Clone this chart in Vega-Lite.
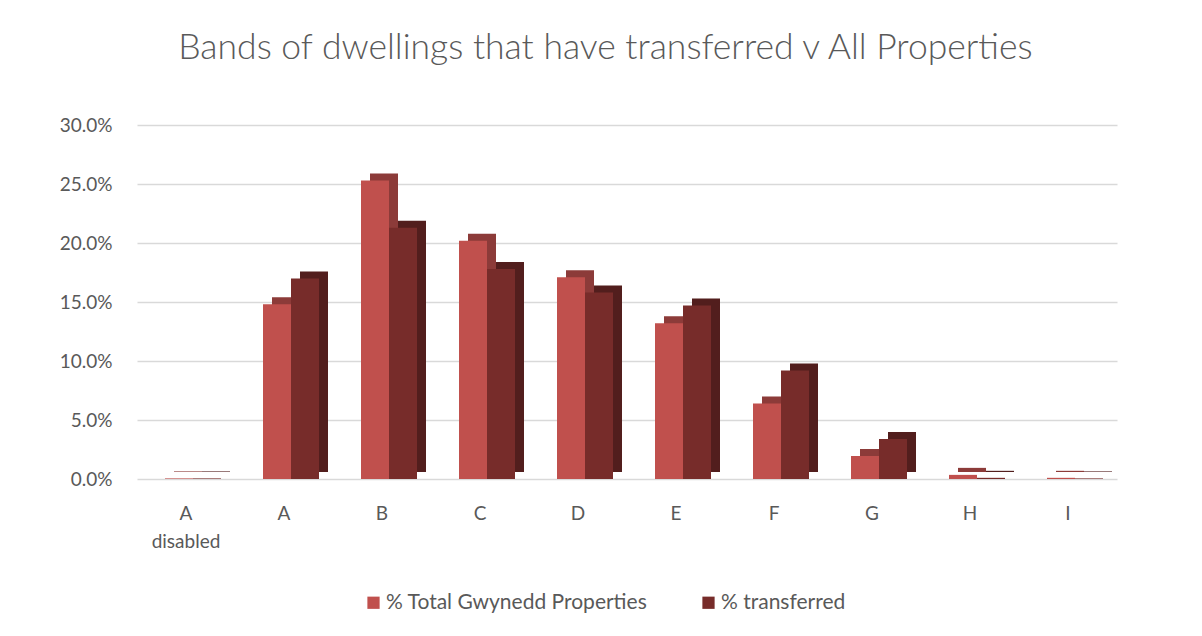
{
  "$schema": "https://vega.github.io/schema/vega-lite/v6.json",
  "autosize": "none",
  "width": 1004,
  "height": 354,
  "padding": {"left": 137, "top": 125, "right": 61, "bottom": 157},
  "background": "white",
  "config": {
    "font": "Lato",
    "view": {"stroke": null}
  },
  "title": {
    "text": "Bands of dwellings that have transferred v All Properties",
    "fontSize": 35.5,
    "fontWeight": 300,
    "font": "Lato",
    "color": "#595959",
    "anchor": "start",
    "baseline": "alphabetic",
    "offset": 22,
    "dx": 119
  },
  "data": {
    "values": [
      {"band": "A disabled", "series": "% Total Gwynedd Properties", "value": 0.0005},
      {"band": "A disabled", "series": "% transferred", "value": 0.0005},
      {"band": "A", "series": "% Total Gwynedd Properties", "value": 0.148},
      {"band": "A", "series": "% transferred", "value": 0.170},
      {"band": "B", "series": "% Total Gwynedd Properties", "value": 0.253},
      {"band": "B", "series": "% transferred", "value": 0.213},
      {"band": "C", "series": "% Total Gwynedd Properties", "value": 0.202},
      {"band": "C", "series": "% transferred", "value": 0.178},
      {"band": "D", "series": "% Total Gwynedd Properties", "value": 0.171},
      {"band": "D", "series": "% transferred", "value": 0.158},
      {"band": "E", "series": "% Total Gwynedd Properties", "value": 0.132},
      {"band": "E", "series": "% transferred", "value": 0.147},
      {"band": "F", "series": "% Total Gwynedd Properties", "value": 0.064},
      {"band": "F", "series": "% transferred", "value": 0.092},
      {"band": "G", "series": "% Total Gwynedd Properties", "value": 0.0195},
      {"band": "G", "series": "% transferred", "value": 0.034},
      {"band": "H", "series": "% Total Gwynedd Properties", "value": 0.0035},
      {"band": "H", "series": "% transferred", "value": 0.001},
      {"band": "I", "series": "% Total Gwynedd Properties", "value": 0.001},
      {"band": "I", "series": "% transferred", "value": 0.0005}
    ]
  },
  "encoding": {
    "x": {
      "field": "band",
      "type": "nominal",
      "sort": null,
      "scale": {"paddingInner": 0, "paddingOuter": 0, "range": [0, 980]},
      "axis": {
        "title": null,
        "labelAngle": 0,
        "ticks": false,
        "domain": false,
        "labelFontSize": 19,
        "labelColor": "#595959",
        "labelPadding": 25,
        "labelLineHeight": 28,
        "labelExpr": "datum.value == 'A disabled' ? ['A', 'disabled'] : datum.value"
      }
    },
    "y": {
      "field": "value",
      "type": "quantitative",
      "scale": {"domain": [0, 0.3], "nice": false},
      "axis": {
        "title": null,
        "format": ".1%",
        "values": [0, 0.05, 0.1, 0.15, 0.2, 0.25, 0.3],
        "ticks": false,
        "domain": false,
        "labelFontSize": 19,
        "labelColor": "#595959",
        "labelPadding": 25,
        "gridColor": "#D9D9D9",
        "gridWidth": 1.6
      }
    }
  },
  "layer": [
    {
      "transform": [{"filter": "datum.series == '% Total Gwynedd Properties'"}],
      "mark": {"type": "bar", "width": 28, "xOffset": 2, "yOffset": -7, "color": "#8C3B39"}
    },
    {
      "transform": [{"filter": "datum.series == '% Total Gwynedd Properties'"}],
      "mark": {"type": "bar", "width": 28, "xOffset": -7},
      "encoding": {
        "color": {
          "field": "series",
          "type": "nominal",
          "scale": {"domain": ["% Total Gwynedd Properties", "% transferred"], "range": ["#C0504D", "#772C2A"]},
          "legend": {
            "title": null,
            "orient": "none",
            "direction": "horizontal",
            "legendX": 226,
            "legendY": 467,
            "symbolType": "square",
            "symbolSize": 150,
            "symbolStrokeWidth": 0,
            "labelFontSize": 21,
            "labelColor": "#595959",
            "labelOffset": 2,
            "labelLimit": 0,
            "columnPadding": 50
          }
        }
      }
    },
    {
      "transform": [{"filter": "datum.series == '% transferred'"}],
      "mark": {"type": "bar", "width": 28, "xOffset": 30, "yOffset": -7, "color": "#521E1D"}
    },
    {
      "transform": [{"filter": "datum.series == '% transferred'"}],
      "mark": {"type": "bar", "width": 28, "xOffset": 21},
      "encoding": {
        "color": {"field": "series", "type": "nominal"}
      }
    }
  ]
}
